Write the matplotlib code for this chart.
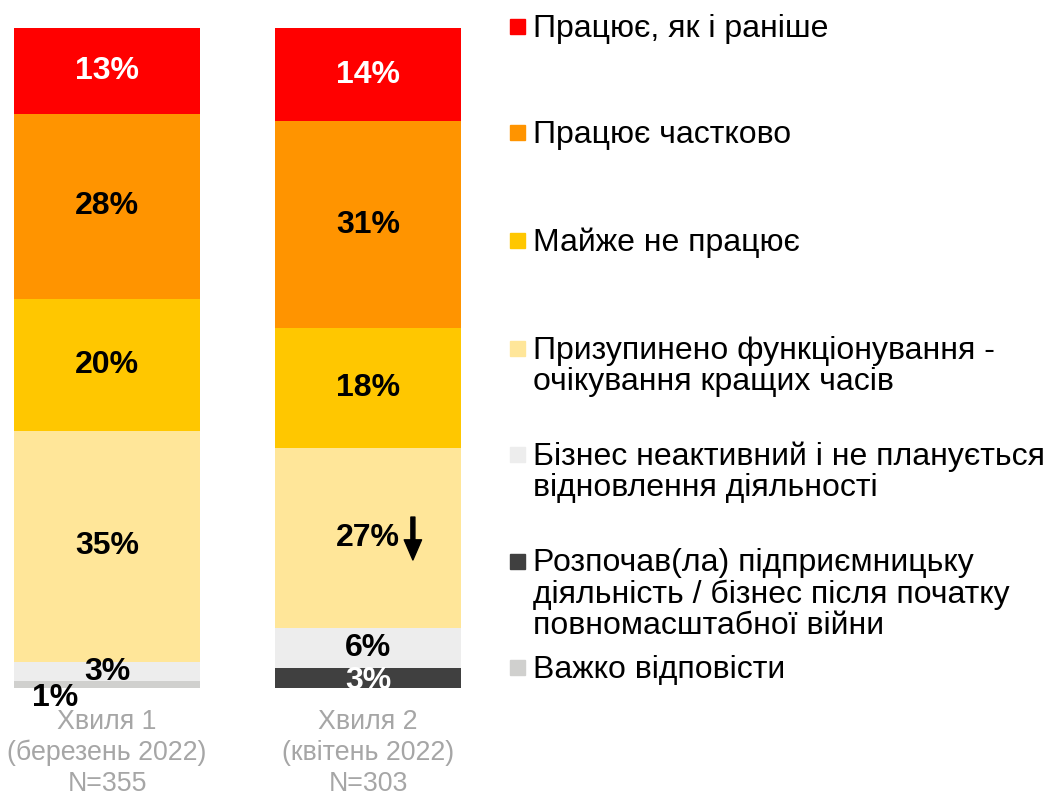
import matplotlib.pyplot as plt
import numpy as np

plt.rcParams['font.family'] = ['Liberation Sans', 'DejaVu Sans']

waves = ['Хвиля 1\n(березень 2022)\nN=355', 'Хвиля 2\n(квітень 2022)\nN=303']
categories = [
    'Працює, як і раніше',
    'Працює частково',
    'Майже не працює',
    'Призупинено функціонування -\nочікування кращих часів',
    'Бізнес неактивний і не планується\nвідновлення діяльності',
    'Розпочав(ла) підприємницьку\nдіяльність / бізнес після початку\nповномасштабної війни',
    'Важко відповісти',
]
colors = ['#FF0000', '#FF9400', '#FFC700', '#FFE699', '#EDEDED', '#404040', '#D0D0CE']
label_colors = ['white', 'black', 'black', 'black', 'black', 'white', 'black']

wave1 = [13, 28, 20, 35, 3, 0, 1]
wave2 = [14, 31, 18, 27, 6, 3, 0]

fig = plt.figure(figsize=(10.48, 7.93), dpi=100)
ax = fig.add_axes([0, 105 / 793, 524 / 1048, 660 / 793])

x = np.arange(2)
data = np.array([wave1, wave2], dtype=float)
scaled = data / data.sum(axis=1, keepdims=True) * 100
bottoms = np.zeros(2)
for i, cat in enumerate(categories):
    ax.bar(x, scaled[:, i], bottom=bottoms, width=0.713, color=colors[i])
    for j in range(2):
        v = data[j, i]
        if v == 0:
            continue
        yc = bottoms[j] + scaled[j, i] / 2
        xc = x[j]
        if j == 0 and i == 6:
            xc, yc = -0.2, 101.5
        if j == 1 and i == 5:
            yc += 0.4  # sits low and gets cut by the axis edge
        ax.text(xc, yc, f'{int(v)}%', ha='center', va='center', fontsize=23,
                fontweight='bold', color=label_colors[i], clip_on=(j == 1 and i == 5))
    bottoms += scaled[:, i]

ax.annotate('', xy=(1.172, 80.6), xytext=(1.172, 74.1),
            arrowprops=dict(width=2.9, headwidth=12.5, headlength=14.5,
                            color='black', shrink=0))

ax.set_xlim(-107 / 261, 417 / 261)
ax.set_ylim(100, 0)
ax.set_xticks(x)
ax.set_xticklabels(waves, fontsize=19.3, color='#A6A6A6', linespacing=1.25)
ax.tick_params(length=0, pad=15)
ax.set_yticks([])
for s in ax.spines.values():
    s.set_visible(False)

# legend
leg_base = [37, 143, 251, 359, 465, 572, 678]
for i, cat in enumerate(categories):
    n = cat.count('\n')
    yb = 1 - (leg_base[i] + 31 * n) / 793
    fig.patches.append(plt.Rectangle((510 / 1048, 1 - 34 / 793 - (leg_base[i] - 37) / 793),
                                     15 / 1048, 15 / 793,
                                     transform=fig.transFigure, color=colors[i]))
    fig.text(533 / 1048, yb, cat, fontsize=23, va='baseline', ha='left',
             linespacing=1.06)

plt.savefig('out.png', dpi=100)
